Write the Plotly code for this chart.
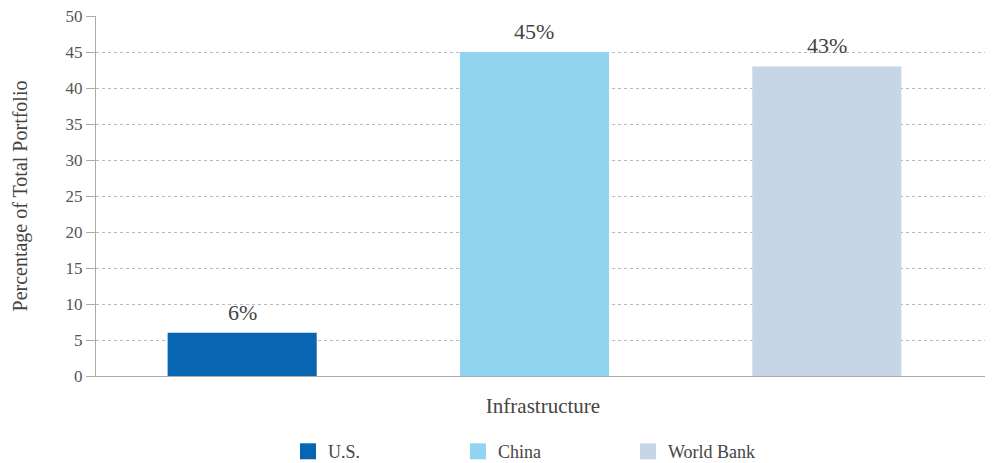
import plotly.graph_objects as go

category = ["Infrastructure"]
series = ["U.S.", "China", "World Bank"]
values = [6, 45, 43]
colors = ["#0865b1", "#91d4ef", "#c7d6e6"]
yticks = [0, 5, 10, 15, 20, 25, 30, 35, 40, 45, 50]

FONT = "Liberation Serif"
fig = go.Figure()
n = len(series)
for i, (name, v, c) in enumerate(zip(series, values, colors)):
    fig.add_trace(go.Bar(
        x=category, y=[v], name=name, marker=dict(color=c, line=dict(width=0)),
        showlegend=False,
    ))
    fig.add_trace(go.Scatter(
        x=[None], y=[None], mode="markers", name=name,
        marker=dict(symbol="square", size=20, color=c, line=dict(width=0)),
        showlegend=True,
    ))
    # value label above each grouped bar (category index 0, group offset)
    fig.add_annotation(
        x=(i - (n - 1) / 2) / n, y=v, xref="x", yref="y",
        text=f"{v}%", showarrow=False, yanchor="bottom", yshift=6,
        font=dict(family=FONT, size=22, color="#444444"),
    )

fig.update_layout(
    width=985, height=455,
    margin=dict(l=88, r=3, t=8, b=87, autoexpand=False),
    paper_bgcolor="white", plot_bgcolor="white",
    barmode="group", bargap=0.0, bargroupgap=0.49,
    font=dict(family=FONT, color="#555555"),
    showlegend=True,
    legend=dict(orientation="h", x=0.5, xanchor="center", y=-0.21, yanchor="middle",
                font=dict(family=FONT, size=18, color="#444444"),
                entrywidth=125, itemsizing="trace"),
    xaxis=dict(range=[-0.5, 0.5194], showticklabels=False, ticks="",
               showline=True, linecolor="#aaaaaa", linewidth=1, automargin=False,
               title=dict(text="Infrastructure", font=dict(family=FONT, size=21, color="#444444"), standoff=22)),
    yaxis=dict(range=[0, 50], tickvals=yticks, ticks="outside", ticklen=9, tickcolor="#aaaaaa",
               showline=True, linecolor="#aaaaaa", linewidth=1, automargin=False,
               ticklabeloverflow="allow",
               showgrid=True, gridcolor="#bbbbbb", griddash="dot", gridwidth=1,
               zeroline=False,
               tickfont=dict(family=FONT, size=17, color="#555555"),
               title=dict(text="Percentage of Total Portfolio", font=dict(family=FONT, size=20, color="#444444"), standoff=32)),
)
fig.write_html("out.html")
